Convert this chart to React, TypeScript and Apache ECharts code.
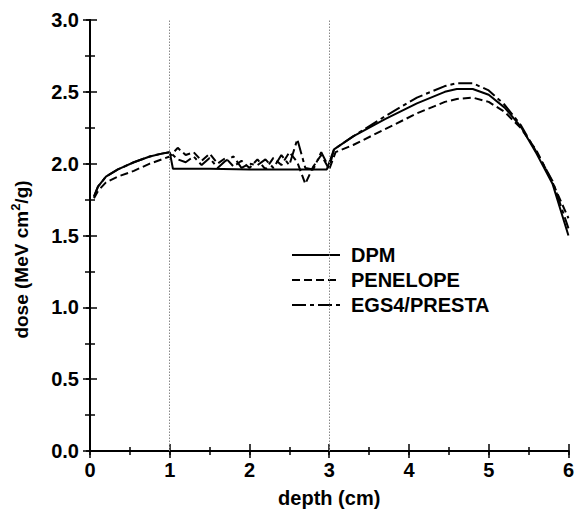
import React, { useEffect, useRef } from "react";
import * as echarts from "echarts";

const seriesNames = ["DPM", "PENELOPE", "EGS4/PRESTA"];
const xTicks = [0, 1, 2, 3, 4, 5, 6];
const yTicks = [0.0, 0.5, 1.0, 1.5, 2.0, 2.5, 3.0];
const layerBoundaries = [1, 3];

const dpmX = [0.05, 0.1, 0.2, 0.35, 0.55, 0.75, 0.9, 1.0, 1.04, 1.5, 2.0, 2.5, 2.97, 3.06, 3.3, 3.7, 4.1, 4.45, 4.6, 4.8, 5.0, 5.2, 5.4, 5.6, 5.8, 6.0];
const dpmY = [1.77, 1.84, 1.91, 1.96, 2.01, 2.05, 2.07, 2.08, 1.965, 1.965, 1.96, 1.96, 1.96, 2.10, 2.19, 2.31, 2.42, 2.50, 2.52, 2.52, 2.48, 2.39, 2.26, 2.07, 1.86, 1.5];

const penX = [0.05, 0.1, 0.2, 0.35, 0.55, 0.75, 0.9, 1.0, 1.1, 1.2, 1.3, 1.4, 1.5, 1.6, 1.7, 1.8, 1.9, 2.0, 2.1, 2.2, 2.3, 2.4, 2.5, 2.6, 2.7, 2.8, 2.9, 3.0, 3.08, 3.3, 3.7, 4.1, 4.45, 4.6, 4.8, 5.0, 5.2, 5.4, 5.6, 5.8, 6.0];
const penY = [1.76, 1.81, 1.87, 1.91, 1.95, 2.0, 2.03, 2.05, 2.11, 2.06, 2.08, 2.02, 2.07, 2.00, 2.04, 1.98, 2.02, 1.97, 2.03, 1.96, 2.04, 1.99, 2.08, 2.01, 1.86, 1.98, 2.06, 1.96, 2.08, 2.13, 2.24, 2.35, 2.43, 2.45, 2.46, 2.43, 2.36, 2.25, 2.09, 1.87, 1.62];

const egsX = [0.05, 0.1, 0.2, 0.35, 0.55, 0.75, 0.9, 1.0, 1.1, 1.2, 1.3, 1.4, 1.5, 1.6, 1.7, 1.8, 1.9, 2.0, 2.1, 2.2, 2.3, 2.4, 2.5, 2.6, 2.7, 2.8, 2.9, 3.0, 3.06, 3.3, 3.7, 4.1, 4.45, 4.6, 4.8, 5.0, 5.2, 5.4, 5.6, 5.8, 6.0];
const egsY = [1.77, 1.84, 1.91, 1.96, 2.01, 2.05, 2.07, 2.08, 2.03, 2.01, 2.05, 1.99, 2.04, 1.97, 2.02, 2.05, 1.97, 2.00, 1.99, 2.03, 1.97, 2.06, 1.99, 2.17, 1.97, 1.96, 2.08, 1.97, 2.10, 2.19, 2.33, 2.46, 2.54, 2.56, 2.56, 2.51, 2.41, 2.27, 2.08, 1.88, 1.55];

const FONT = "'Liberation Sans', Arial, Helvetica, sans-serif";

function pairs(xs: number[], ys: number[]) {
  return xs.map((x, i) => [x, ys[i]]);
}

export default function App() {
  const ref = useRef<HTMLDivElement>(null);
  useEffect(() => {
    if (!ref.current) return;
    const chart = echarts.init(ref.current, undefined, { renderer: "svg" });
    const axisLine = { show: true, lineStyle: { color: "#000", width: 2 } };
    const labelStyle = { color: "#000", fontWeight: "bold" as const, fontSize: 20, fontFamily: FONT };
    const xBase = { type: "value" as const, min: xTicks[0], max: xTicks[xTicks.length - 1], interval: 1, splitLine: { show: false } };
    const yBase = { type: "value" as const, min: yTicks[0], max: yTicks[yTicks.length - 1], interval: 0.5, splitLine: { show: false } };
    const lineCommon = { type: "line" as const, symbol: "none", showSymbol: false, smooth: false, xAxisIndex: 0, yAxisIndex: 0 };
    chart.setOption({
      animation: false,
      backgroundColor: "#fff",
      grid: { left: 90, right: 6.5, top: 20, bottom: 61, containLabel: false },
      legend: {
        orient: "vertical",
        left: 286,
        top: 240,
        itemWidth: 48,
        itemHeight: 20,
        itemGap: 5,
        data: seriesNames,
        itemStyle: { opacity: 0, borderWidth: 0 },
        textStyle: { ...labelStyle, padding: [0, 0, 0, 6] },
      },
      xAxis: [
        {
          ...xBase,
          position: "bottom",
          axisLine,
          axisTick: { show: true, inside: true, length: 7, lineStyle: { color: "#000", width: 1.5 } },
          minorTick: { show: true, splitNumber: 2, length: 4, lineStyle: { color: "#000", width: 1.5 } },
          axisLabel: { ...labelStyle, margin: 9, formatter: (v: number) => String(v) },
          name: "depth (cm)",
          nameLocation: "middle",
          nameGap: 37,
          nameTextStyle: labelStyle,
        },
        {
          ...xBase,
          position: "bottom",
          axisLine: { show: false },
          axisTick: { show: true, inside: false, length: 4, lineStyle: { color: "#000", width: 1.5 } },
          axisLabel: { show: false },
        },
        {
          ...xBase,
          position: "top",
          axisLine,
          axisTick: { show: true, inside: true, length: 7, lineStyle: { color: "#000", width: 1.5 } },
          minorTick: { show: true, splitNumber: 2, length: 4, lineStyle: { color: "#000", width: 1.5 } },
          axisLabel: { show: false },
        },
      ],
      yAxis: [
        {
          ...yBase,
          position: "left",
          axisLine,
          axisTick: { show: true, inside: true, length: 7, lineStyle: { color: "#000", width: 1.5 } },
          minorTick: { show: true, splitNumber: 2, length: 5, lineStyle: { color: "#000", width: 1.5 } },
          axisLabel: { ...labelStyle, margin: 11, formatter: (v: number) => v.toFixed(1) },
          name: "dose (MeV cm{sup|2}/g)",
          nameLocation: "middle",
          nameGap: 56,
          nameTextStyle: {
            ...labelStyle,
            fontSize: 19,
            padding: [0, 48, 0, 0],
            rich: {
              sup: { fontSize: 13, fontWeight: "bold", fontFamily: FONT, color: "#000", verticalAlign: "top", padding: [0, 0, 12, 0] },
            },
          },
        },
        {
          ...yBase,
          position: "left",
          axisLine: { show: false },
          axisTick: { show: true, inside: false, length: 4, lineStyle: { color: "#000", width: 1.5 } },
          axisLabel: { show: false },
        },
        {
          ...yBase,
          position: "right",
          axisLine,
          axisTick: { show: true, inside: true, length: 7, lineStyle: { color: "#000", width: 1.5 } },
          minorTick: { show: true, splitNumber: 2, length: 5, lineStyle: { color: "#000", width: 1.5 } },
          axisLabel: { show: false },
        },
      ],
      series: [
        {
          ...lineCommon,
          name: seriesNames[0],
          data: pairs(dpmX, dpmY),
          lineStyle: { color: "#000", width: 2, type: "solid" },
          itemStyle: { color: "#000" },
          z: 3,
          markLine: {
            silent: true,
            symbol: "none",
            label: { show: false },
            lineStyle: { color: "#888", width: 1, type: [1.5, 1.5] },
            data: layerBoundaries.map((b) => ({ xAxis: b })),
          },
        },
        {
          ...lineCommon,
          name: seriesNames[1],
          data: pairs(penX, penY),
          lineStyle: { color: "#000", width: 2, type: [8, 4] },
          itemStyle: { color: "#000" },
          z: 2,
        },
        {
          ...lineCommon,
          name: seriesNames[2],
          data: pairs(egsX, egsY),
          lineStyle: { color: "#000", width: 2, type: [14, 4, 4, 4] },
          itemStyle: { color: "#000" },
          z: 2,
        },
      ],
    });
    return () => chart.dispose();
  }, []);
  return <div ref={ref} style={{ position: "fixed", left: 0, top: 0, width: 577, height: 513 }} />;
}
